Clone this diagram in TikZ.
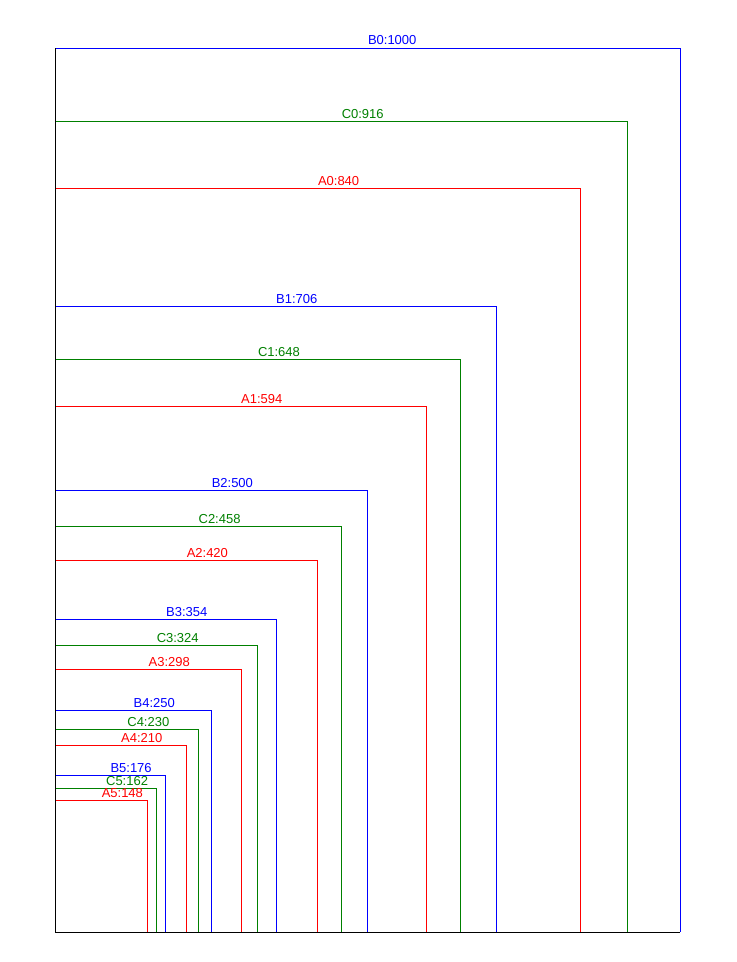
\documentclass[tikz,border=0pt]{standalone}
\usepackage{fontspec}
\setmainfont{Liberation Sans}
\usepackage{tikz}
\definecolor{verde}{RGB}{0,128,0}

\begin{document}
\begin{tikzpicture}[x=0.46875pt, y=0.46875pt, line width=0.75pt,
    etichetta/.style={anchor=south west, inner sep=0pt, yshift=2pt, font=\fontsize{9.75}{11}\selectfont}]
        \useasboundingbox (-88,-48) rectangle (1089.6,1491.2);
        \coordinate (O) at (0,0);

        % Serie B
        \coordinate (B0) at (1000,1414);
        \coordinate (B1) at (706,1000);
        \coordinate (B2) at (500,706);
        \coordinate (B3) at (354,500);
        \coordinate (B4) at (250,354);
        \coordinate (B5) at (176,250);
        \node[etichetta, text=blue] (lB0) at (500,1414) {B0:1000};
        \node[etichetta, text=blue] (lB1) at (353,1000) {B1:706};
        \node[etichetta, text=blue] (lB2) at (250,706) {B2:500};
        \node[etichetta, text=blue] (lB3) at (177,500) {B3:354};
        \node[etichetta, text=blue] (lB4) at (125,354) {B4:250};
        \node[etichetta, text=blue] (lB5) at (88,250) {B5:176};
        \draw[blue] (O |- B0) -- (B0) -- (B0 |- O);
        \draw[blue] (O |- B1) -- (B1) -- (B1 |- O);
        \draw[blue] (O |- B2) -- (B2) -- (B2 |- O);
        \draw[blue] (O |- B3) -- (B3) -- (B3 |- O);
        \draw[blue] (O |- B4) -- (B4) -- (B4 |- O);
        \draw[blue] (O |- B5) -- (B5) -- (B5 |- O);

        % Serie C
        \coordinate (C0) at (916,1297);
        \coordinate (C1) at (648,916);
        \coordinate (C2) at (458,648);
        \coordinate (C3) at (324,458);
        \coordinate (C4) at (230,324);
        \coordinate (C5) at (162,229);
        \node[etichetta, text=verde] (lC0) at (458,1297) {C0:916};
        \node[etichetta, text=verde] (lC1) at (324,916) {C1:648};
        \node[etichetta, text=verde] (lC2) at (229,648) {C2:458};
        \node[etichetta, text=verde] (lC3) at (162,458) {C3:324};
        \node[etichetta, text=verde] (lC4) at (115,324) {C4:230};
        \node[etichetta, text=verde] (lC5) at (81,229) {C5:162};
        \draw[verde] (O |- C0) -- (C0) -- (C0 |- O);
        \draw[verde] (O |- C1) -- (C1) -- (C1 |- O);
        \draw[verde] (O |- C2) -- (C2) -- (C2 |- O);
        \draw[verde] (O |- C3) -- (C3) -- (C3 |- O);
        \draw[verde] (O |- C4) -- (C4) -- (C4 |- O);
        \draw[verde] (O |- C5) -- (C5) -- (C5 |- O);

        % Serie A
        \coordinate (A0) at (840,1189);
        \coordinate (A1) at (594,840);
        \coordinate (A2) at (420,594);
        \coordinate (A3) at (298,420);
        \coordinate (A4) at (210,298);
        \coordinate (A5) at (148,210);
        \node[etichetta, text=red] (lA0) at (420,1189) {A0:840};
        \node[etichetta, text=red] (lA1) at (297,840) {A1:594};
        \node[etichetta, text=red] (lA2) at (210,594) {A2:420};
        \node[etichetta, text=red] (lA3) at (149,420) {A3:298};
        \node[etichetta, text=red] (lA4) at (105,298) {A4:210};
        \node[etichetta, text=red] (lA5) at (74,210) {A5:148};
        \draw[red] (O |- A0) -- (A0) -- (A0 |- O);
        \draw[red] (O |- A1) -- (A1) -- (A1 |- O);
        \draw[red] (O |- A2) -- (A2) -- (A2 |- O);
        \draw[red] (O |- A3) -- (A3) -- (A3 |- O);
        \draw[red] (O |- A4) -- (A4) -- (A4 |- O);
        \draw[red] (O |- A5) -- (A5) -- (A5 |- O);

        % Assi
        \draw (O |- B0) -- (O) -- (B0 |- O);
    \end{tikzpicture}
\end{document}
